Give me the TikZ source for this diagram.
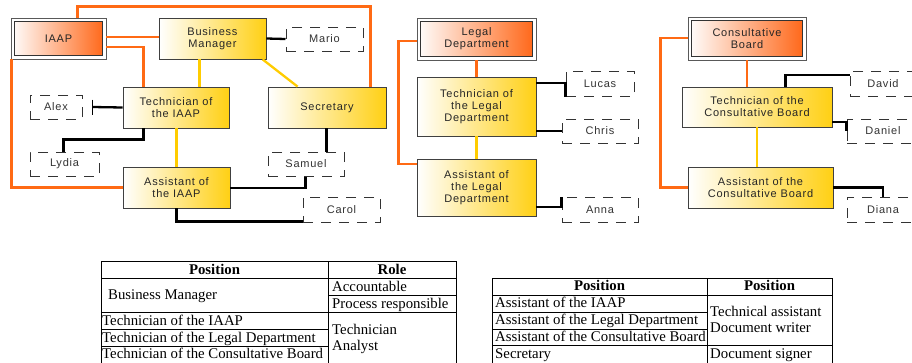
\documentclass[tikz,border=0pt]{standalone}
\usepackage{fontspec}
\setmainfont{Liberation Serif}
\newfontfamily\diagfont[LetterSpace=7]{Liberation Sans}
\definecolor{orangeline}{RGB}{255,106,20}
\definecolor{goldline}{RGB}{255,204,0}
\definecolor{goldfill}{RGB}{255,208,20}
\definecolor{orangefill}{RGB}{255,100,20}
\begin{document}
\begin{tikzpicture}[x=1pt,y=-1pt,
  nodetext/.style={font=\diagfont\fontsize{11}{12}\selectfont, text=black!85, align=center, inner sep=0pt},
  box/.style={nodetext, draw=black!75, line width=0.8pt, left color=white, right color=goldfill},
  header/.style={nodetext, draw=black!65, line width=0.8pt, fill=white,
    path picture={\draw[black!80, line width=1.3pt, left color=white, right color=orangefill]
      ([shift={(3.5pt,3.5pt)}]path picture bounding box.south west) rectangle
      ([shift={(-3.5pt,-3.5pt)}]path picture bounding box.north east);}},
  person/.style={nodetext, draw=black!80, line width=1pt, dash pattern=on 10pt off 8pt, text=black!80},
  oline/.style={draw=orangeline, line width=2.3pt},
  yline/.style={draw=goldline, line width=2.3pt},
  bline/.style={draw=black, line width=2.3pt},
  cell/.style={font=\fontsize{14.8}{16}\selectfont, inner sep=0pt, anchor=base west, align=left},
  hcell/.style={font=\bfseries\fontsize{14.8}{16}\selectfont, inner sep=0pt, anchor=base},
  tabrule/.style={draw=black, line width=0.9pt}
]
\fill[white] (0,0) rectangle (912,362);
\useasboundingbox (0,0) rectangle (912,362);

% ---------- IAAP group ----------
\node[header, minimum width=95pt, minimum height=41pt] (iaap) at (58.5,38.5) {IAAP};
\node[box, minimum width=107pt, minimum height=41pt] (bm) at (212.5,38.5) {Business\\Manager};
\node[person, minimum width=77pt, minimum height=24pt] (mario) at (324.5,39) {Mario};
\node[box, minimum width=106pt, minimum height=41pt] (techiaap) at (176,107.5) {Technician of\\the IAAP};
\node[box, minimum width=118pt, minimum height=41pt] (secretary) at (327,107.5) {Secretary};
\node[person, minimum width=52pt, minimum height=24pt] (alex) at (56,107) {Alex};
\node[person, minimum width=69pt, minimum height=24pt] (lydia) at (64.5,164) {Lydia};
\node[box, minimum width=107pt, minimum height=41pt] (asstiaap) at (176.5,187.5) {Assistant of\\the IAAP};
\node[person, minimum width=76pt, minimum height=24pt] (samuel) at (306,164) {Samuel};
\node[person, minimum width=77pt, minimum height=25pt] (carol) at (341.5,209.5) {Carol};

\draw[oline] ([xshift=67pt]iaap.north west) -- ++(0,-11) -| ([xshift=103pt]secretary.north west);
\draw[oline] ([yshift=1.5pt]iaap.east) -- ([yshift=1.5pt]bm.west);
\draw[oline] ([yshift=-8.5pt]iaap.east) -| ([xshift=21pt]techiaap.north west);
\draw[oline] ([xshift=1pt]iaap.south west) |- (asstiaap.west);
\draw[yline] ([xshift=41pt]bm.south west) -- ([xshift=77pt]techiaap.north west);
\draw[yline] ([xshift=104pt]bm.south west) -- ([xshift=30pt]secretary.north west);
\draw[yline] ([xshift=54pt]techiaap.south west) -- ([xshift=54pt]asstiaap.north west);
\draw[bline] (bm.east) -- (mario.west);
\draw[bline] (techiaap.west) -- ([xshift=10pt]alex.east) coordinate (alextick);
\draw[black, line width=1.2pt] ([yshift=7.5pt]alextick) -- ([yshift=-7.5pt]alextick);
\draw[bline] ([xshift=21pt]techiaap.south west) -- ++(0,11) -| ([xshift=34pt]lydia.north west);
\draw[bline] ([xshift=59pt]secretary.south west) -- ++(0,24);
\draw[bline] ([yshift=-0.5pt]asstiaap.east) -| ([xshift=38pt]samuel.south west);
\draw[bline] ([xshift=54pt]asstiaap.south west) |- ([yshift=1pt]carol.south west);

% ---------- Legal group ----------
\node[header, minimum width=119pt, minimum height=42pt] (legal) at (476.5,39) {Legal\\Department};
\node[box, minimum width=119pt, minimum height=59pt] (techlegal) at (476.5,106.5) {Technician of\\the Legal\\Department};
\node[box, minimum width=119pt, minimum height=57pt] (asstlegal) at (476.5,187.5) {Assistant of\\the Legal\\Department};
\node[person, minimum width=68pt, minimum height=25pt] (lucas) at (600,83.5) {Lucas};
\node[person, minimum width=76pt, minimum height=24pt] (chris) at (600,131) {Chris};
\node[person, minimum width=76pt, minimum height=25pt] (anna) at (600,209.5) {Anna};

\draw[oline] ([yshift=-2pt]legal.west) -- ++(-18,0) |- ([yshift=23.5pt]asstlegal.west);
\draw[oline] (legal.south) -- (techlegal.north);
\draw[yline] (techlegal.south) -- (asstlegal.north);
\draw[bline] ([yshift=23.5pt]techlegal.east) -| (lucas.south west);
\draw[bline] ([yshift=-24.5pt]techlegal.east) -- (chris.west);
\draw[bline] ([yshift=-19.5pt]asstlegal.east) -| (anna.north west);

% ---------- Consultative Board group ----------
\node[header, minimum width=118pt, minimum height=43pt] (cb) at (747,38.5) {Consultative\\Board};
\node[box, minimum width=150pt, minimum height=40pt] (techcb) at (757,107) {Technician of the\\Consultative Board};
\node[box, minimum width=145pt, minimum height=41pt] (asstcb) at (760.5,187.5) {Assistant of the\\Consultative Board};
\node[person, minimum width=66pt, minimum height=25pt] (david) at (883,83.5) {David};
\node[person, minimum width=72pt, minimum height=24pt] (daniel) at (883,131) {Daniel};
\node[person, minimum width=72pt, minimum height=25pt] (diana) at (883,209.5) {Diana};

\draw[oline] ([yshift=0.5pt]cb.west) -- ++(-27,0) |- (asstcb.west);
\draw[oline] (cb.south) -- (cb.south |- techcb.north);
\draw[yline] (techcb.south) -- (techcb.south |- asstcb.north);
\draw[bline] ([xshift=104pt]techcb.north west) |- ([yshift=8.5pt]david.west);
\draw[bline] ([yshift=-15pt]techcb.east) -| (daniel.west);
\draw[bline] (asstcb.east) -| (diana.north);

% ---------- Table 1 ----------
\draw[tabrule] (101,261) -- (456,261);
\draw[tabrule] (101,278) -- (456,278);
\draw[tabrule] (328,295) -- (456,295);
\draw[tabrule] (101,312) -- (456,312);
\draw[tabrule] (101,329) -- (328,329);
\draw[tabrule] (101,346) -- (328,346);
\draw[tabrule] (101,261) -- (101,363);
\draw[tabrule] (328,261) -- (328,363);
\draw[tabrule] (456,261) -- (456,363);
\node[hcell] (t1h1) at (214.5,274) {Position};
\node[hcell] (t1h2) at (392,274) {Role};
\node[cell] (t1bm) at (108,299.5) {Business Manager};
\node[cell] (t1acc) at (332,291) {Accountable};
\node[cell] (t1proc) at (332,308) {Process responsible};
\node[cell] (t1ti) at (102,325) {Technician of the IAAP};
\node[cell] (t1tl) at (102,342) {Technician of the Legal Department};
\node[cell] (t1tc) at (102,358.5) {Technician of the Consultative Board};
\node[cell] (t1ta) at (332,350.5) {Technician\\Analyst};

% ---------- Table 2 ----------
\draw[tabrule] (492,278) -- (832,278);
\draw[tabrule] (492,295) -- (832,295);
\draw[tabrule] (492,312) -- (707,312);
\draw[tabrule] (492,329) -- (707,329);
\draw[tabrule] (492,345) -- (832,345);
\draw[tabrule] (492,278) -- (492,363);
\draw[tabrule] (707,278) -- (707,363);
\draw[tabrule] (832,278) -- (832,363);
\node[hcell] (t2h1) at (599.5,290.5) {Position};
\node[hcell] (t2h2) at (769.5,290.5) {Position};
\node[cell] (t2a1) at (495,307.5) {Assistant of the IAAP};
\node[cell] (t2a2) at (495,324.5) {Assistant of the Legal Department};
\node[cell] (t2a3) at (495,341.5) {Assistant of the Consultative Board};
\node[cell] (t2sec) at (495,358.5) {Secretary};
\node[cell] (t2ta) at (710,332.5) {Technical assistant\\Document writer};
\node[cell] (t2ds) at (710,358.5) {Document signer};
\end{tikzpicture}
\end{document}
